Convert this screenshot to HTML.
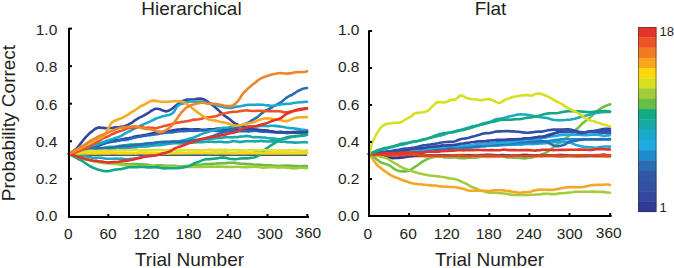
<!DOCTYPE html>
<html><head><meta charset="utf-8"><style>
html,body{margin:0;padding:0;background:#fff;width:674px;height:268px;overflow:hidden}
svg{display:block}
text{font-family:"Liberation Sans",sans-serif;fill:#231f20}
.l{fill:none;stroke-width:2.6;stroke-linejoin:round;stroke-linecap:round}
</style></head><body>
<svg width="674" height="268" viewBox="0 0 674 268">
<line x1="69" y1="155.2" x2="307" y2="155.2" stroke="#15202c" stroke-width="1.3"/>
<line x1="369" y1="155.8" x2="610" y2="155.8" stroke="#1f2d3d" stroke-width="1.2"/>
<path class="l" d="M69.0,153.8 L70.5,153.4 L72.6,152.8 L75.0,151.8 L77.6,151.0 L80.0,150.2 L82.4,149.6 L84.9,149.0 L87.4,148.5 L89.8,148.2 L92.0,147.5 L94.9,146.5 L97.3,145.4 L100.0,144.3 L102.2,143.5 L104.5,142.6 L107.0,142.2 L110.0,141.4 L112.1,140.9 L114.4,140.3 L117.0,140.0 L119.5,139.7 L122.0,139.2 L124.2,138.9 L126.0,138.6 L129.2,138.1 L132.0,137.4 L134.0,136.8 L136.4,136.3 L139.0,135.9 L141.6,135.6 L144.0,135.1 L146.3,134.8 L148.5,134.2 L150.6,133.7 L152.8,133.2 L155.0,132.7 L157.2,132.3 L159.3,131.9 L161.4,132.1 L163.6,132.0 L166.0,131.8 L168.3,131.3 L170.7,130.9 L173.3,130.2 L175.8,129.9 L178.1,129.5 L180.0,129.6 L182.7,129.0 L186.0,129.1 L187.8,129.2 L190.0,129.6 L192.5,129.5 L195.2,129.3 L197.9,129.2 L200.5,129.5 L202.9,129.7 L205.0,129.7 L207.7,129.5 L210.0,129.4 L212.0,129.3 L213.9,129.3 L216.0,128.9 L218.1,128.6 L220.1,128.8 L222.1,128.7 L224.4,128.8 L227.0,128.6 L229.0,128.9 L231.2,128.9 L233.5,129.1 L236.0,129.4 L238.5,129.5 L240.8,129.8 L243.0,129.6 L245.0,129.6 L247.5,129.5 L249.5,129.3 L251.4,129.4 L253.4,129.5 L256.0,129.9 L258.0,130.1 L260.3,130.3 L262.7,130.4 L265.2,130.6 L267.8,130.8 L270.3,131.4 L272.8,131.6 L275.0,132.1 L277.7,132.3 L280.2,132.4 L282.6,132.4 L285.0,132.2 L287.4,132.4 L290.0,132.2 L292.5,132.5 L295.2,132.1 L298.0,132.1 L300.8,131.9 L303.3,132.2 L305.4,132.3 L307.0,132.0" stroke="#2f3a96"/>
<path class="l" d="M69.0,153.8 L70.4,153.5 L72.3,153.1 L74.5,152.4 L76.9,151.9 L79.6,151.4 L82.3,150.7 L85.0,150.1 L87.6,149.3 L90.0,148.7 L92.3,148.1 L94.5,147.4 L96.7,146.4 L99.0,145.7 L101.2,144.8 L103.4,144.1 L105.6,143.3 L107.8,142.5 L110.0,142.1 L112.2,141.8 L114.4,141.5 L116.7,141.1 L118.9,140.6 L121.1,140.3 L123.3,140.0 L125.6,139.9 L127.8,139.4 L130.0,138.9 L132.2,138.2 L134.4,137.8 L136.7,137.1 L138.9,136.7 L141.1,136.4 L143.3,135.9 L145.6,135.8 L147.8,135.2 L150.0,135.1 L152.2,134.7 L154.3,134.4 L156.3,134.3 L158.3,133.9 L160.4,133.5 L162.6,133.1 L164.9,132.7 L167.3,132.5 L170.0,132.3 L172.0,132.4 L174.1,131.9 L176.2,131.7 L178.5,131.3 L180.8,131.1 L183.2,131.3 L185.6,130.9 L188.0,131.0 L190.4,130.5 L192.9,130.9 L195.3,130.6 L197.7,130.7 L200.0,130.3 L202.3,130.5 L204.6,130.2 L206.9,130.4 L209.2,130.3 L211.5,130.4 L213.8,130.5 L216.2,130.9 L218.5,130.7 L220.8,130.9 L223.1,130.8 L225.4,131.1 L227.7,131.1 L230.0,130.9 L232.3,131.2 L234.6,131.2 L236.9,131.3 L239.2,131.1 L241.5,131.1 L243.8,131.1 L246.2,131.1 L248.5,131.4 L250.8,131.2 L253.1,130.9 L255.4,130.7 L257.7,131.0 L260.0,131.5 L262.3,131.6 L264.7,131.7 L267.2,131.8 L269.7,132.0 L272.1,132.1 L274.6,132.2 L277.0,132.4 L279.4,132.6 L281.7,132.7 L284.0,132.8 L286.1,132.9 L288.1,133.1 L290.0,132.7 L293.3,132.7 L296.3,132.6 L299.1,132.6 L301.6,132.4 L303.8,132.3 L305.6,132.5 L307.0,132.6" stroke="#2468b8"/>
<path class="l" d="M69.0,153.8 L70.4,153.5 L72.1,153.1 L74.1,152.7 L76.4,152.4 L78.9,152.0 L81.6,151.2 L84.3,150.6 L87.2,149.8 L90.0,149.3 L92.0,149.0 L94.0,148.8 L96.1,148.7 L98.2,148.5 L100.4,148.5 L102.7,148.3 L105.0,147.8 L107.3,147.3 L109.7,146.8 L112.2,146.7 L114.7,146.6 L117.3,146.3 L120.0,145.9 L122.0,145.6 L124.0,145.4 L126.1,145.2 L128.2,144.9 L130.4,144.6 L132.6,144.6 L134.8,144.4 L137.1,144.3 L139.4,144.3 L141.7,144.0 L144.0,143.7 L146.3,143.2 L148.6,143.3 L150.9,143.1 L153.2,143.1 L155.5,142.6 L157.8,142.4 L160.0,142.0 L162.2,141.9 L164.4,141.8 L166.7,141.7 L168.9,141.7 L171.1,141.6 L173.3,141.4 L175.6,141.3 L177.8,141.2 L180.0,141.0 L182.2,140.9 L184.4,140.6 L186.7,140.5 L188.9,140.3 L191.1,140.2 L193.3,140.0 L195.6,139.8 L197.8,139.6 L200.0,139.4 L202.3,139.1 L204.6,139.1 L206.9,138.9 L209.3,139.0 L211.7,138.7 L214.1,138.5 L216.5,138.3 L218.9,138.0 L221.2,137.9 L223.6,137.4 L225.9,137.2 L228.1,137.2 L230.3,137.2 L232.5,137.2 L234.5,137.1 L236.4,137.0 L238.3,137.1 L240.0,136.6 L243.1,136.5 L245.8,135.9 L248.1,136.3 L250.3,136.4 L252.2,137.1 L254.1,137.2 L255.9,137.1 L257.9,137.2 L260.0,137.2 L262.2,137.5 L264.5,137.5 L266.9,138.0 L269.2,138.3 L271.5,138.6 L273.7,138.5 L275.9,138.9 L278.0,139.0 L280.0,139.2 L282.8,138.9 L285.5,138.5 L288.0,138.1 L290.4,137.3 L292.7,136.8 L295.0,136.4 L297.8,136.3 L300.6,135.9 L303.2,135.6 L305.4,135.2 L307.0,135.0" stroke="#1aa9b0"/>
<path class="l" d="M69.0,153.8 L70.4,153.6 L72.1,153.5 L74.1,153.3 L76.4,152.8 L78.9,152.3 L81.6,151.6 L84.3,151.1 L87.2,150.6 L90.0,150.4 L92.0,150.4 L94.0,150.2 L96.1,149.9 L98.2,149.7 L100.4,149.5 L102.7,149.5 L105.0,149.5 L107.3,149.1 L109.7,149.0 L112.2,148.6 L114.7,148.6 L117.3,148.3 L120.0,148.4 L122.0,148.4 L124.0,148.4 L126.1,148.0 L128.2,147.5 L130.4,147.2 L132.6,147.0 L134.8,147.0 L137.1,146.9 L139.4,146.5 L141.7,146.5 L144.0,146.3 L146.3,146.3 L148.6,145.9 L150.9,145.6 L153.2,145.0 L155.5,144.8 L157.8,144.8 L160.0,144.7 L162.2,144.5 L164.4,144.2 L166.6,144.0 L168.8,143.7 L171.0,143.4 L173.1,143.2 L175.3,143.1 L177.5,143.2 L179.7,143.4 L181.9,143.3 L184.1,143.2 L186.3,143.0 L188.5,142.5 L190.8,142.4 L193.0,142.2 L195.3,142.4 L197.7,142.3 L200.0,142.3 L202.2,142.1 L204.4,142.0 L206.7,141.7 L209.0,141.6 L211.4,141.7 L213.8,141.9 L216.2,142.0 L218.6,141.8 L221.0,141.7 L223.4,142.1 L225.8,142.2 L228.2,142.2 L230.5,141.7 L232.8,141.3 L235.0,141.3 L237.2,141.5 L239.3,141.9 L241.3,141.9 L243.2,141.6 L245.0,141.3 L248.0,141.2 L250.6,141.2 L252.9,141.2 L255.1,141.4 L257.0,141.3 L259.0,141.3 L260.9,140.8 L262.9,141.2 L265.0,141.2 L267.4,141.5 L270.0,141.4 L272.1,141.4 L274.3,141.3 L276.7,141.4 L279.3,141.4 L281.9,141.6 L284.6,141.8 L287.3,142.1 L290.1,142.3 L292.7,142.4 L295.3,142.6 L297.8,142.5 L300.1,142.5 L302.2,142.2 L304.1,142.2 L305.7,142.1 L307.0,142.4" stroke="#17a9a9"/>
<path class="l" d="M69.0,153.8 L70.4,153.6 L72.1,153.3 L74.1,152.8 L76.4,152.3 L78.9,152.1 L81.6,151.8 L84.3,151.6 L87.2,151.1 L90.0,150.7 L92.0,150.4 L94.0,149.9 L96.1,149.8 L98.2,149.7 L100.4,149.7 L102.7,149.2 L105.0,148.8 L107.3,148.4 L109.7,148.4 L112.2,148.5 L114.7,148.4 L117.3,148.3 L120.0,148.0 L122.0,147.9 L124.1,147.7 L126.3,147.6 L128.5,147.6 L130.8,147.5 L133.1,147.5 L135.5,147.1 L137.9,146.8 L140.3,146.4 L142.7,146.3 L145.1,146.4 L147.4,146.3 L149.7,146.0 L151.9,145.7 L154.1,145.4 L156.2,145.4 L158.1,145.2 L160.0,145.1 L162.9,144.6 L165.5,144.1 L168.0,143.7 L170.4,143.4 L172.7,142.9 L174.8,142.4 L176.9,141.7 L178.9,141.4 L181.0,141.0 L183.0,140.5 L185.0,139.9 L187.4,139.2 L189.8,138.5 L192.0,138.1 L194.2,137.3 L196.4,136.4 L198.5,135.5 L200.7,134.4 L202.8,133.6 L205.0,132.8 L207.2,132.3 L209.4,131.4 L211.7,130.7 L213.9,130.0 L216.1,129.7 L218.3,129.0 L220.6,128.4 L222.8,127.8 L225.0,127.8 L227.2,127.8 L229.3,127.3 L231.5,126.6 L233.6,126.4 L235.8,126.5 L238.0,126.6 L240.2,126.6 L242.6,126.7 L245.0,126.8 L247.1,126.6 L249.3,126.4 L251.6,126.5 L253.9,126.5 L256.3,126.4 L258.7,126.2 L261.1,125.8 L263.4,125.9 L265.7,125.9 L267.9,126.2 L270.0,125.8 L272.5,125.7 L274.8,125.9 L277.1,126.1 L279.4,126.4 L281.6,126.7 L283.7,127.0 L285.9,127.5 L287.9,127.7 L290.0,128.1 L292.7,128.2 L295.6,128.6 L298.4,129.1 L301.1,129.6 L303.5,129.8 L305.5,130.1 L307.0,130.3" stroke="#1aa9c0"/>
<path class="l" d="M69.0,153.8 L70.6,153.9 L72.9,154.1 L75.5,154.7 L78.0,155.2 L80.2,155.4 L82.4,155.8 L84.9,156.1 L88.0,156.9 L89.8,157.1 L91.8,157.7 L93.9,157.8 L96.1,157.9 L98.5,157.7 L100.9,157.8 L103.4,158.2 L106.0,158.7 L108.2,158.8 L110.6,158.8 L113.2,158.7 L115.8,158.6 L118.5,158.8 L121.1,158.6 L123.6,159.0 L126.0,159.1 L128.1,159.2 L130.0,158.8 L133.4,158.6 L135.6,158.3 L137.5,158.0 L140.0,157.4 L142.2,157.1 L144.4,156.6 L146.9,156.2 L149.4,155.6 L152.2,155.0 L155.0,154.7 L156.9,154.4 L158.6,154.3 L160.4,153.8 L162.2,153.4 L164.1,153.5 L166.3,153.1 L168.8,153.3 L171.7,153.1 L175.0,153.3 L176.7,153.0 L178.5,152.9 L180.3,153.0 L182.3,153.1 L184.4,153.0 L186.5,153.2 L188.7,153.2 L191.0,153.3 L193.3,153.2 L195.6,153.0 L198.0,153.0 L200.4,153.0 L202.9,153.3 L205.3,153.3 L207.8,153.2 L210.3,153.0 L212.7,153.0 L215.2,152.9 L217.6,153.1 L220.0,153.0 L222.2,153.1 L224.4,152.8 L226.7,152.9 L229.0,153.4 L231.3,153.8 L233.6,153.9 L236.0,153.5 L238.4,153.1 L240.7,152.9 L243.1,153.0 L245.5,152.9 L247.9,153.3 L250.2,153.2 L252.6,153.1 L254.9,152.6 L257.2,152.4 L259.4,152.6 L261.6,152.9 L263.8,153.0 L265.9,152.7 L268.0,152.7 L270.0,152.8 L272.7,153.0 L275.5,153.0 L278.3,152.9 L281.0,152.7 L283.8,152.7 L286.5,152.8 L289.1,153.1 L291.6,153.2 L294.1,153.3 L296.4,153.2 L298.6,153.1 L300.7,152.7 L302.5,152.9 L304.2,152.8 L305.7,153.2 L307.0,153.0" stroke="#22a6c4"/>
<path class="l" d="M69.0,153.8 L70.9,152.6 L73.6,150.8 L76.0,149.1 L77.8,147.2 L79.3,145.3 L81.0,143.1 L82.4,141.3 L83.9,139.3 L85.5,137.4 L87.0,135.8 L89.0,133.8 L91.0,132.1 L93.0,130.6 L95.0,129.0 L96.9,128.0 L99.0,127.4 L101.2,127.7 L103.5,127.9 L106.0,128.2 L108.2,128.2 L110.6,128.0 L112.9,127.8 L115.0,127.4 L118.2,127.4 L121.0,126.8 L123.5,126.6 L126.0,125.6 L128.0,124.9 L130.0,123.7 L132.0,122.7 L134.4,120.7 L137.0,119.1 L139.3,117.6 L141.7,116.6 L144.0,115.5 L146.6,113.9 L149.0,112.6 L151.0,111.0 L153.0,109.9 L155.0,108.8 L157.5,108.7 L160.0,109.3 L162.9,110.6 L166.0,111.5 L169.1,110.5 L172.0,108.8 L174.4,106.8 L177.0,104.7 L178.7,103.4 L180.6,102.4 L182.6,100.9 L185.0,100.3 L187.2,99.6 L189.8,99.6 L192.4,99.5 L194.9,99.3 L197.0,98.8 L199.7,98.5 L201.9,98.8 L204.0,99.5 L206.4,100.8 L208.8,102.5 L211.0,104.1 L213.6,105.9 L216.0,108.0 L217.9,109.7 L219.9,111.7 L222.0,113.5 L223.7,115.1 L225.5,116.4 L227.3,117.6 L229.0,118.8 L231.2,120.6 L233.4,122.4 L235.5,123.7 L238.3,125.0 L241.0,125.6 L243.3,126.7 L246.0,127.7 L247.7,128.3 L249.6,128.8 L251.9,129.0 L255.0,129.5 L256.8,129.6 L258.8,130.0 L261.0,130.1 L263.4,130.3 L265.9,130.5 L268.3,130.8 L270.7,131.4 L272.9,131.7 L275.0,132.0 L277.8,132.0 L280.3,131.9 L282.7,132.0 L285.0,132.2 L287.4,132.1 L290.0,132.2 L292.5,132.0 L295.2,132.1 L298.0,132.1 L300.8,132.0 L303.3,132.2 L305.4,132.1 L307.0,131.5" stroke="#3346a0"/>
<path class="l" d="M69.0,153.8 L70.4,153.5 L72.1,152.9 L74.1,152.5 L76.4,151.5 L78.9,151.4 L81.6,150.9 L84.3,150.8 L87.2,150.1 L90.0,149.7 L92.0,149.2 L94.0,148.9 L96.1,148.6 L98.2,148.3 L100.4,148.1 L102.7,148.0 L105.0,147.9 L107.3,147.7 L109.7,147.7 L112.2,147.5 L114.7,147.2 L117.3,146.7 L120.0,146.4 L122.0,146.2 L124.0,145.9 L126.1,146.0 L128.3,145.9 L130.5,145.7 L132.8,145.3 L135.1,145.3 L137.4,145.0 L139.7,144.6 L142.0,144.4 L144.3,144.0 L146.7,143.8 L149.0,143.3 L151.3,143.6 L153.5,143.3 L155.7,142.7 L157.9,142.3 L160.0,142.2 L162.5,142.3 L165.1,142.1 L167.6,142.0 L170.2,142.0 L172.8,141.8 L175.3,141.8 L177.8,141.8 L180.3,141.8 L182.7,141.4 L185.0,141.2 L187.2,141.2 L189.4,141.0 L191.4,140.7 L193.3,140.6 L195.0,140.6 L198.2,140.2 L200.8,139.6 L203.0,139.1 L204.8,138.7 L206.5,137.9 L208.2,137.5 L210.0,137.0 L212.6,136.3 L215.0,135.3 L217.3,134.4 L219.6,133.6 L222.0,132.7 L224.1,132.2 L226.4,131.5 L228.6,130.8 L230.9,130.0 L233.0,129.1 L235.0,128.1 L237.7,126.9 L240.2,125.9 L242.6,125.0 L245.0,123.9 L247.0,123.2 L249.1,122.2 L251.2,120.7 L253.2,119.6 L255.0,118.5 L257.5,117.1 L259.7,115.1 L262.0,113.1 L263.9,111.7 L265.8,110.4 L267.8,109.7 L270.0,108.5 L272.0,107.4 L274.3,105.8 L276.6,104.7 L278.9,103.4 L281.0,102.2 L283.4,100.4 L285.6,98.4 L287.8,96.9 L290.0,95.7 L292.3,94.7 L294.6,93.2 L296.8,91.7 L299.0,90.5 L302.0,89.1 L305.0,88.3 L307.0,88.0" stroke="#2b6cb5"/>
<path class="l" d="M69.0,153.8 L70.5,153.4 L72.4,152.8 L74.8,151.9 L77.4,151.0 L80.0,150.0 L82.6,149.0 L85.0,148.0 L87.2,147.0 L89.4,146.2 L91.5,145.6 L93.6,145.1 L95.7,144.8 L97.9,144.1 L100.0,143.3 L102.1,142.5 L104.3,141.8 L106.4,140.8 L108.6,140.2 L110.7,139.5 L112.9,139.0 L115.0,138.0 L117.2,137.5 L119.4,136.6 L121.7,135.6 L123.9,134.1 L126.1,133.0 L128.1,131.8 L130.0,131.2 L132.2,129.8 L134.1,128.9 L135.9,128.0 L137.8,127.1 L140.0,126.1 L141.9,125.0 L144.0,124.2 L146.3,123.1 L148.6,122.1 L150.9,121.1 L153.0,120.0 L155.0,119.0 L157.5,117.9 L159.9,117.2 L162.1,116.5 L164.1,116.0 L166.0,115.6 L168.7,115.0 L171.0,114.2 L173.0,113.0 L174.7,110.7 L176.2,107.8 L178.0,105.7 L180.5,104.2 L183.3,103.4 L186.0,102.5 L188.2,101.8 L190.3,101.4 L193.0,101.5 L195.0,101.7 L197.3,101.6 L199.8,101.5 L202.4,101.6 L205.0,102.3 L207.2,102.9 L209.6,103.5 L212.0,104.1 L214.4,104.8 L216.8,105.3 L219.0,106.0 L221.6,106.6 L224.1,107.3 L226.5,107.6 L228.8,107.9 L231.0,107.9 L233.3,107.4 L235.2,106.9 L237.3,106.6 L240.0,106.3 L241.9,105.9 L244.1,105.4 L246.5,105.0 L248.9,104.8 L251.4,104.7 L253.8,104.7 L256.0,104.7 L258.5,104.5 L261.0,104.7 L263.4,104.8 L265.8,105.2 L268.0,105.4 L270.0,105.6 L272.6,105.7 L274.8,105.5 L276.9,105.0 L279.0,104.8 L281.2,104.3 L283.5,104.2 L285.8,103.9 L288.0,103.8 L290.2,103.6 L292.4,103.2 L294.7,102.7 L297.0,102.5 L299.7,102.2 L302.6,102.1 L305.2,101.8 L307.0,101.8" stroke="#1aa9cc"/>
<path class="l" d="M69.0,153.8 L70.5,154.3 L72.6,155.1 L75.0,155.9 L77.6,156.6 L80.0,157.5 L82.3,158.5 L84.7,159.0 L87.2,159.4 L89.6,159.9 L92.0,160.6 L94.4,161.4 L96.8,161.8 L99.3,162.0 L101.7,162.0 L104.0,162.5 L106.2,162.7 L108.3,162.8 L110.4,162.4 L112.6,162.6 L115.0,162.9 L117.2,163.1 L119.5,163.3 L121.9,163.5 L124.5,163.8 L127.2,164.1 L130.0,164.2 L132.0,164.1 L134.1,164.1 L136.3,164.0 L138.5,164.3 L140.8,164.2 L143.1,164.5 L145.5,164.5 L147.8,164.8 L150.0,165.3 L152.2,165.5 L154.5,165.7 L156.9,165.2 L159.2,165.3 L161.5,165.4 L163.7,165.6 L165.9,165.8 L168.0,165.8 L170.0,165.7 L172.8,165.8 L175.4,165.8 L177.8,166.2 L180.2,166.2 L182.6,166.3 L185.0,166.0 L187.3,166.1 L189.4,165.7 L191.6,165.5 L193.9,165.1 L196.6,165.0 L200.0,164.7 L201.8,164.6 L203.8,164.2 L206.0,164.1 L208.3,164.0 L210.6,164.1 L213.1,163.8 L215.6,163.7 L218.1,163.4 L220.6,163.3 L223.0,163.2 L225.5,163.1 L227.8,162.9 L230.0,162.7 L232.5,162.7 L235.0,162.9 L237.4,163.3 L239.8,163.6 L242.2,163.8 L244.5,163.9 L246.9,164.1 L249.2,164.1 L251.4,164.3 L253.7,164.6 L256.0,164.7 L258.5,164.6 L260.9,164.8 L263.3,165.0 L265.6,165.3 L267.9,165.3 L270.3,165.2 L272.6,165.5 L275.0,165.7 L277.5,166.0 L280.0,165.8 L282.2,165.7 L284.6,165.6 L287.2,165.6 L289.8,165.7 L292.4,165.9 L295.0,166.1 L297.5,166.1 L299.9,166.2 L302.1,166.0 L304.0,166.1 L305.7,166.1 L307.0,166.0" stroke="#68bd45"/>
<path class="l" d="M69.0,153.8 L70.5,154.3 L72.6,155.1 L75.0,156.1 L77.6,157.1 L80.0,157.9 L82.3,158.7 L84.7,159.3 L87.2,159.8 L89.6,160.0 L92.0,160.5 L94.4,161.2 L96.8,161.8 L99.3,162.3 L101.7,162.7 L104.0,163.1 L106.2,163.3 L108.3,163.5 L110.4,163.6 L112.6,163.7 L115.0,163.9 L117.2,164.1 L119.5,164.5 L121.9,164.9 L124.5,165.3 L127.2,165.6 L130.0,165.5 L132.0,165.9 L134.1,166.1 L136.3,166.3 L138.5,166.2 L140.8,166.4 L143.1,166.5 L145.5,166.4 L147.8,166.4 L150.0,166.4 L152.2,166.5 L154.4,166.7 L156.7,167.0 L158.9,167.0 L161.1,167.0 L163.3,166.7 L165.6,166.8 L167.8,166.7 L170.0,166.9 L172.2,167.0 L174.3,166.7 L176.3,166.9 L178.3,166.9 L180.4,167.1 L182.6,167.0 L184.9,167.0 L187.3,166.9 L190.0,166.8 L192.0,166.9 L194.1,167.0 L196.2,167.0 L198.5,166.9 L200.8,166.8 L203.2,166.9 L205.6,166.8 L208.0,166.8 L210.4,166.6 L212.9,166.5 L215.3,166.7 L217.7,166.5 L220.0,166.6 L222.3,166.6 L224.6,166.9 L226.9,166.9 L229.2,166.9 L231.5,167.0 L233.8,167.0 L236.2,166.7 L238.5,166.8 L240.8,167.0 L243.1,167.2 L245.4,167.1 L247.7,167.1 L250.0,166.8 L252.3,166.9 L254.6,166.5 L257.0,166.9 L259.3,167.0 L261.7,167.6 L264.0,167.6 L266.4,167.5 L268.7,167.3 L271.0,167.1 L273.3,167.2 L275.5,167.3 L277.8,167.6 L280.0,167.4 L282.4,167.4 L285.0,167.5 L287.6,167.8 L290.2,167.9 L292.8,168.4 L295.4,168.2 L297.8,168.2 L300.1,167.8 L302.2,167.8 L304.1,168.0 L305.7,168.2 L307.0,168.0" stroke="#a2cc3a"/>
<path class="l" d="M69.0,153.8 L70.5,154.6 L72.7,155.8 L75.1,157.2 L77.7,158.5 L80.0,159.8 L82.1,160.9 L84.1,162.3 L86.0,163.6 L88.0,164.8 L90.0,166.3 L92.6,167.5 L95.2,168.6 L97.8,169.4 L100.0,170.0 L103.1,170.9 L106.0,171.2 L108.0,171.1 L110.2,170.8 L112.5,170.2 L115.0,169.6 L117.0,169.5 L119.1,169.2 L121.3,169.1 L123.6,168.4 L126.0,167.9 L128.1,167.3 L130.4,167.2 L132.7,167.2 L135.1,167.2 L137.5,167.1 L140.0,166.9 L142.2,167.0 L144.6,167.0 L147.1,167.4 L149.5,167.2 L151.9,167.4 L154.1,167.2 L156.0,167.2 L158.7,167.4 L160.8,167.9 L162.7,168.2 L165.0,168.4 L167.2,168.1 L169.6,168.2 L172.1,168.2 L174.6,168.2 L177.0,168.1 L179.3,167.9 L181.6,167.7 L183.9,167.2 L186.0,166.8 L188.0,166.4 L190.2,165.6 L192.1,164.5 L194.0,163.5 L196.0,162.8 L198.1,162.1 L200.3,161.1 L202.6,160.1 L205.0,159.4 L207.1,159.1 L209.4,159.1 L211.8,158.9 L214.0,158.8 L216.0,158.4 L218.6,158.1 L220.7,157.6 L223.0,157.4 L225.6,157.8 L228.2,158.5 L231.0,159.0 L233.0,159.1 L235.0,159.2 L237.2,159.0 L240.0,158.5 L242.0,158.3 L244.3,158.4 L246.7,158.4 L249.3,158.1 L251.7,157.7 L254.0,157.5 L256.0,156.9 L258.2,155.9 L260.1,154.5 L261.7,153.1 L263.2,151.4 L265.0,149.7 L267.0,148.1 L269.0,146.7 L271.0,145.3 L273.0,144.0 L275.0,143.0 L277.3,141.5 L279.4,140.4 L281.6,139.1 L284.0,138.4 L286.1,137.5 L288.2,137.1 L290.4,136.6 L292.7,136.5 L295.0,136.1 L297.5,135.8 L300.3,135.5 L303.0,135.1 L305.4,135.0 L307.0,134.7" stroke="#14a982"/>
<path class="l" d="M69.0,153.8 L70.4,153.6 L72.1,153.2 L74.3,152.7 L76.7,152.4 L79.3,152.3 L82.1,152.0 L85.0,151.6 L86.9,151.4 L88.8,151.1 L90.8,150.9 L92.8,150.9 L94.9,151.0 L97.1,151.0 L99.4,150.8 L101.9,150.7 L104.4,150.6 L107.1,150.8 L110.0,150.9 L111.8,150.9 L113.7,150.5 L115.7,150.4 L117.7,150.1 L119.7,150.5 L121.9,150.3 L124.0,150.5 L126.2,150.5 L128.4,150.3 L130.7,150.3 L133.0,150.0 L135.4,150.1 L137.7,150.0 L140.2,150.2 L142.6,150.2 L145.0,150.4 L147.5,150.3 L150.0,150.1 L152.1,150.3 L154.2,150.1 L156.3,150.1 L158.5,149.9 L160.7,150.0 L162.9,150.3 L165.2,150.3 L167.4,150.2 L169.7,150.1 L172.1,150.3 L174.4,150.3 L176.7,150.3 L179.1,150.1 L181.4,150.0 L183.7,150.0 L186.1,150.2 L188.4,150.2 L190.8,150.2 L193.1,150.1 L195.4,150.2 L197.7,150.3 L200.0,150.4 L202.3,150.4 L204.5,150.2 L206.8,150.0 L209.0,149.6 L211.2,149.7 L213.4,149.8 L215.7,150.2 L217.9,149.9 L220.1,149.9 L222.3,149.7 L224.6,149.8 L226.8,149.9 L229.0,150.2 L231.3,150.3 L233.6,150.2 L235.9,150.3 L238.2,150.3 L240.5,150.4 L242.8,150.4 L245.2,150.8 L247.6,150.5 L250.0,150.2 L252.2,150.0 L254.5,150.3 L256.9,150.3 L259.3,150.2 L261.9,149.9 L264.4,150.2 L267.1,150.2 L269.7,150.5 L272.4,150.4 L275.0,150.6 L277.7,150.6 L280.3,150.6 L282.9,150.6 L285.5,150.6 L288.0,150.4 L290.4,150.2 L292.7,150.3 L295.0,150.5 L297.1,150.5 L299.1,150.4 L301.0,150.8 L302.8,150.9 L304.3,150.9 L305.8,150.6 L307.0,150.4" stroke="#dfe030"/>
<path class="l" d="M69.0,153.8 L70.4,153.8 L72.1,153.5 L74.3,153.3 L76.7,153.4 L79.3,153.5 L82.1,153.3 L85.0,153.0 L86.9,153.2 L88.8,153.2 L90.8,153.3 L92.8,153.2 L94.9,153.4 L97.1,153.3 L99.4,153.2 L101.9,153.1 L104.4,153.2 L107.1,153.2 L110.0,153.1 L111.8,152.7 L113.7,152.7 L115.7,152.8 L117.7,153.2 L119.7,153.3 L121.9,153.3 L124.0,153.2 L126.2,153.2 L128.4,153.2 L130.7,153.1 L133.0,153.2 L135.4,153.1 L137.7,152.9 L140.2,152.6 L142.6,152.6 L145.0,152.8 L147.5,152.8 L150.0,152.7 L152.1,152.8 L154.2,153.0 L156.3,153.2 L158.5,153.1 L160.7,153.0 L162.9,153.1 L165.2,153.2 L167.4,153.4 L169.7,153.2 L172.1,153.2 L174.4,153.0 L176.7,153.0 L179.1,153.0 L181.4,153.0 L183.7,153.0 L186.1,153.0 L188.4,152.9 L190.8,152.9 L193.1,152.7 L195.4,152.8 L197.7,152.7 L200.0,152.9 L202.3,152.7 L204.5,152.8 L206.8,152.8 L209.0,152.9 L211.2,152.8 L213.4,152.9 L215.7,153.1 L217.9,153.0 L220.1,153.0 L222.3,152.9 L224.6,153.0 L226.8,152.8 L229.0,153.0 L231.3,153.1 L233.6,153.3 L235.9,153.1 L238.2,153.0 L240.5,153.0 L242.8,153.1 L245.2,153.2 L247.6,153.0 L250.0,153.0 L252.2,153.0 L254.5,152.9 L256.9,152.8 L259.3,153.0 L261.9,153.2 L264.4,153.3 L267.1,153.3 L269.7,153.2 L272.4,153.1 L275.0,153.2 L277.7,153.2 L280.3,153.3 L282.9,153.1 L285.5,153.2 L288.0,153.1 L290.4,153.1 L292.7,153.2 L295.0,153.1 L297.1,153.0 L299.1,153.1 L301.0,153.3 L302.8,153.2 L304.3,153.0 L305.8,152.8 L307.0,153.0" stroke="#fcd80a"/>
<path class="l" d="M69.0,153.8 L70.8,153.5 L73.3,153.1 L76.0,152.5 L78.6,151.3 L81.3,150.3 L84.0,149.0 L86.0,148.4 L88.0,147.3 L90.0,146.3 L92.0,144.9 L94.0,143.7 L95.9,142.6 L97.9,141.8 L100.0,140.4 L101.9,139.0 L103.8,137.9 L105.8,137.2 L107.9,136.6 L110.0,135.3 L112.1,134.2 L114.3,133.2 L116.6,132.2 L118.8,131.6 L121.0,130.9 L123.2,130.1 L125.4,129.2 L127.5,128.4 L129.7,128.0 L132.0,127.8 L134.4,127.7 L136.8,127.2 L139.2,126.9 L141.6,126.9 L144.0,127.5 L146.3,127.7 L148.5,127.5 L150.6,127.8 L152.8,127.9 L155.0,128.3 L157.2,128.0 L159.4,127.3 L161.6,126.7 L163.8,125.9 L166.0,125.7 L168.2,125.0 L170.5,124.6 L172.7,123.8 L174.9,123.2 L177.0,122.7 L179.3,122.4 L181.5,121.9 L183.7,121.7 L186.0,121.3 L188.1,121.1 L190.3,120.4 L192.5,119.9 L194.8,119.6 L197.0,119.5 L199.2,119.3 L201.5,118.7 L203.8,118.0 L206.0,117.7 L208.0,117.3 L210.9,117.0 L213.5,116.6 L216.0,116.3 L218.1,115.5 L220.1,114.4 L223.0,113.5 L225.0,113.3 L227.3,112.7 L229.8,112.2 L232.5,111.9 L235.2,111.8 L238.0,111.6 L240.1,111.1 L242.4,110.7 L244.7,110.5 L247.1,110.4 L249.4,110.7 L251.7,110.9 L253.9,111.0 L256.0,110.9 L258.6,110.7 L261.1,110.8 L263.6,111.0 L265.9,111.0 L268.0,111.1 L270.0,111.2 L272.6,111.1 L274.9,111.2 L277.0,111.0 L279.0,111.2 L281.3,111.5 L283.4,112.2 L286.0,112.3 L288.0,112.2 L290.2,111.5 L292.5,111.1 L294.8,110.5 L297.0,110.4 L299.8,110.0 L302.7,109.5 L305.2,109.0 L307.0,108.8" stroke="#ec5327"/>
<path class="l" d="M69.0,153.8 L70.5,153.1 L72.7,152.0 L75.1,150.8 L77.7,149.6 L80.0,148.7 L82.1,147.4 L84.1,146.6 L86.0,145.0 L88.0,144.0 L90.0,142.7 L92.1,142.0 L94.3,140.8 L96.4,139.7 L98.4,138.8 L100.0,138.2 L102.5,136.8 L104.3,135.3 L105.7,132.9 L107.2,130.5 L108.5,128.0 L110.0,125.1 L111.6,122.7 L113.7,121.3 L116.0,120.3 L120.0,118.7 L122.1,117.9 L124.2,116.8 L128.0,114.6 L130.0,113.2 L132.0,111.9 L133.9,111.0 L136.0,109.5 L138.5,107.7 L141.0,105.9 L142.9,105.2 L145.0,104.3 L146.9,103.2 L149.0,101.9 L151.0,100.9 L153.2,100.6 L156.0,100.9 L158.1,101.3 L160.4,101.7 L163.1,101.9 L166.0,101.8 L168.2,101.8 L170.7,101.5 L173.2,101.3 L175.8,101.1 L178.1,101.2 L180.0,101.2 L183.5,102.0 L186.0,103.5 L188.0,104.9 L190.0,106.5 L192.0,108.1 L193.9,109.6 L195.8,111.0 L198.0,112.6 L200.0,114.0 L202.3,115.7 L204.7,117.2 L207.0,118.8 L209.3,119.6 L211.6,120.1 L213.8,120.4 L216.0,120.8 L218.7,121.4 L221.2,122.0 L224.0,122.4 L226.4,123.1 L229.0,123.6 L231.6,124.9 L234.0,125.4 L236.7,125.8 L239.3,125.3 L242.0,124.7 L244.3,124.2 L246.8,123.7 L249.3,123.2 L252.0,122.7 L254.4,122.0 L256.9,121.0 L259.5,119.9 L262.0,119.1 L264.0,118.5 L267.2,118.3 L270.0,118.5 L272.1,118.9 L274.4,119.2 L276.8,119.5 L279.0,120.0 L281.7,120.4 L284.2,121.1 L287.0,120.9 L289.4,120.2 L291.9,119.1 L294.5,118.1 L297.0,117.6 L299.7,117.2 L302.6,117.3 L305.2,117.1 L307.0,117.2" stroke="#f6ab22"/>
<path class="l" d="M69.0,153.8 L70.5,154.4 L72.6,155.1 L75.0,155.8 L77.6,156.7 L80.0,157.2 L82.3,158.1 L84.7,158.7 L87.2,159.5 L89.6,160.1 L92.0,160.5 L94.5,160.7 L97.0,160.9 L99.6,161.5 L101.9,161.6 L104.0,162.0 L106.4,162.2 L108.3,162.6 L111.0,162.3 L112.9,162.1 L115.1,162.0 L117.5,162.0 L120.0,161.4 L122.5,160.9 L125.0,160.5 L127.4,160.6 L129.7,160.2 L132.1,159.8 L134.6,159.2 L137.2,158.6 L140.0,158.0 L142.1,157.2 L144.3,156.9 L146.7,156.5 L149.1,156.2 L151.5,155.9 L153.9,155.7 L156.1,155.4 L158.2,154.8 L160.0,154.3 L163.2,153.3 L165.8,152.7 L167.9,152.1 L170.0,151.4 L172.1,150.2 L174.0,148.9 L175.9,147.9 L178.0,147.1 L180.4,146.5 L182.9,145.5 L185.5,144.5 L188.0,143.5 L190.5,142.8 L193.0,142.0 L195.5,141.0 L198.0,140.0 L200.5,139.3 L203.0,138.8 L205.5,138.3 L208.0,137.7 L210.5,137.1 L212.9,136.7 L215.4,136.7 L218.0,136.2 L220.2,135.6 L222.5,135.1 L224.9,134.8 L227.4,134.1 L230.0,133.3 L232.0,132.9 L234.2,132.6 L236.4,131.8 L238.7,130.6 L240.9,129.6 L243.0,128.5 L245.0,127.9 L247.5,127.2 L249.7,126.8 L251.8,126.7 L253.9,126.4 L256.0,126.2 L258.2,125.5 L260.4,124.8 L262.5,124.3 L264.7,123.8 L267.0,123.1 L269.4,122.1 L271.9,121.0 L274.4,120.2 L276.8,119.5 L279.0,118.9 L281.5,117.6 L283.7,116.0 L285.8,114.3 L288.0,113.2 L290.2,112.2 L292.4,111.5 L294.7,110.7 L297.0,109.8 L299.7,109.1 L302.6,108.7 L305.2,108.4 L307.0,108.3" stroke="#e63329"/>
<path class="l" d="M69.0,153.8 L70.5,152.9 L72.7,151.8 L75.1,150.2 L77.7,148.9 L80.0,147.4 L82.1,146.5 L84.1,145.1 L86.0,143.8 L88.0,142.3 L90.0,141.0 L92.0,139.9 L94.0,138.8 L96.0,137.8 L98.0,136.6 L100.0,135.8 L102.5,134.8 L104.9,134.1 L107.4,132.8 L110.0,131.6 L112.1,130.7 L114.3,130.0 L116.6,128.9 L118.8,128.2 L121.0,127.7 L123.2,127.4 L125.4,127.2 L127.5,126.8 L129.7,126.9 L132.0,126.4 L134.4,126.4 L136.8,126.6 L139.2,127.2 L141.6,128.1 L144.0,128.4 L146.4,128.9 L148.8,129.0 L151.1,129.5 L153.2,130.0 L155.0,130.5 L157.8,131.8 L160.0,132.5 L162.9,131.8 L166.0,130.2 L168.0,128.7 L170.1,127.2 L172.0,125.3 L173.7,123.4 L175.3,121.0 L177.0,118.8 L178.4,116.6 L179.9,114.5 L181.5,112.4 L183.0,110.9 L184.8,109.0 L186.6,107.4 L189.0,106.1 L191.1,105.1 L193.5,104.5 L196.1,103.7 L198.7,103.2 L201.0,102.7 L203.5,102.8 L205.7,103.3 L207.8,103.7 L210.0,103.7 L212.2,103.5 L214.5,103.7 L216.8,104.0 L219.0,104.5 L221.3,104.9 L223.8,105.5 L226.0,105.9 L228.0,106.1 L230.8,106.1 L233.0,105.4 L235.6,103.5 L238.0,101.1 L239.4,99.1 L240.7,97.0 L242.0,94.8 L243.9,92.5 L246.0,90.5 L248.3,88.2 L251.0,86.0 L252.6,84.6 L254.4,83.3 L256.3,81.7 L258.0,80.3 L260.1,78.8 L262.0,77.9 L264.0,77.0 L267.0,76.0 L270.0,75.1 L272.7,74.3 L276.0,73.7 L277.9,73.2 L280.1,73.1 L282.5,73.2 L284.8,73.5 L287.0,73.6 L289.3,73.4 L291.5,73.2 L293.7,72.5 L296.0,72.3 L298.2,72.1 L300.8,72.3 L303.3,72.0 L305.5,71.7 L307.0,71.3" stroke="#f0842a"/>
<path class="l" d="M369.0,154.3 L370.6,155.3 L372.8,156.6 L375.0,158.0 L376.9,159.4 L378.8,161.0 L380.9,162.6 L383.3,163.3 L385.8,164.1 L388.4,164.9 L390.2,166.0 L392.1,167.3 L393.9,168.7 L395.9,169.9 L398.1,170.8 L400.5,171.3 L402.9,171.4 L404.8,171.4 L407.2,171.1 L409.3,170.5 L411.1,169.5 L413.1,168.2 L415.3,166.6 L417.0,165.6 L418.9,164.2 L420.8,162.9 L422.7,161.5 L425.3,160.2 L427.8,158.9 L430.2,157.9 L432.8,157.2 L436.1,156.8 L437.9,156.8 L440.1,156.8 L442.5,157.0 L445.0,157.5 L447.5,157.5 L450.0,157.6 L452.4,157.3 L454.9,157.5 L457.4,157.8 L460.0,158.1 L462.5,158.3 L465.0,158.2 L467.5,157.8 L470.0,157.7 L472.5,157.6 L475.0,157.6 L477.5,157.4 L480.0,157.0 L482.5,156.5 L485.0,155.7 L487.5,155.3 L490.0,155.3 L492.5,155.6 L495.0,155.7 L497.5,155.7 L500.1,156.0 L502.7,156.6 L505.2,157.1 L507.7,157.4 L510.0,157.2 L512.6,157.6 L515.0,157.5 L517.3,157.8 L519.6,157.9 L522.0,158.2 L524.6,158.4 L527.3,157.9 L530.0,157.7 L532.6,157.2 L535.0,156.7 L537.7,155.9 L540.3,155.1 L542.7,154.2 L545.0,153.2 L547.2,151.9 L549.3,150.3 L551.4,148.8 L553.5,147.2 L555.3,146.3 L557.1,144.9 L558.9,143.5 L560.7,141.6 L562.4,140.5 L564.4,139.0 L566.3,137.9 L568.2,136.5 L569.9,135.2 L571.9,133.5 L573.8,131.8 L576.0,129.8 L577.6,128.3 L579.5,126.4 L581.4,124.5 L583.2,122.8 L584.8,121.5 L587.3,119.8 L590.0,117.6 L591.7,116.1 L593.6,114.1 L595.6,112.3 L597.7,110.5 L599.8,109.0 L602.0,107.7 L604.5,106.5 L606.8,105.5 L608.9,104.6 L610.3,104.4" stroke="#74c044"/>
<path class="l" d="M369.0,154.3 L370.2,154.2 L371.6,154.2 L373.2,153.7 L375.0,153.6 L377.0,153.3 L379.0,153.5 L381.2,153.4 L383.6,153.2 L386.0,153.1 L388.4,153.1 L391.0,153.2 L393.5,153.3 L396.1,153.1 L398.8,152.7 L401.4,152.2 L403.9,151.9 L406.5,152.0 L409.0,152.0 L411.4,151.9 L413.7,151.4 L415.9,151.2 L418.0,151.3 L420.0,151.5 L422.6,151.2 L425.2,150.8 L427.6,150.2 L429.9,150.0 L432.1,149.9 L434.2,150.1 L436.4,150.1 L438.4,149.8 L440.5,149.3 L442.6,148.7 L444.7,148.6 L446.8,148.6 L449.0,148.6 L451.2,148.4 L453.6,148.0 L456.0,147.8 L458.0,147.4 L460.1,147.4 L462.2,147.4 L464.4,147.2 L466.5,147.2 L468.7,146.9 L471.0,146.7 L473.2,146.6 L475.5,146.5 L477.8,146.4 L480.0,146.2 L482.3,146.3 L484.6,146.2 L486.8,145.9 L489.1,145.9 L491.3,145.7 L493.5,145.8 L495.7,145.6 L497.9,145.6 L500.0,145.4 L502.3,145.2 L504.7,145.2 L507.1,145.0 L509.4,144.8 L511.8,144.6 L514.2,144.7 L516.5,144.7 L518.9,144.7 L521.2,144.7 L523.5,144.3 L525.7,144.1 L527.9,143.9 L530.1,143.9 L532.2,144.1 L534.2,144.0 L536.2,143.8 L538.2,143.7 L540.0,143.3 L542.9,143.4 L545.5,143.2 L548.0,143.0 L550.4,142.8 L552.7,142.2 L554.8,142.3 L556.9,142.0 L558.9,142.1 L561.0,141.9 L563.0,142.2 L565.0,142.3 L567.4,142.3 L569.7,142.6 L571.9,143.2 L574.0,144.1 L576.0,145.0 L578.1,145.5 L580.3,146.1 L582.6,146.5 L585.0,147.1 L587.2,147.0 L589.6,147.3 L592.1,147.4 L594.8,147.7 L597.4,147.5 L600.0,147.0 L602.5,146.7 L604.8,146.5 L606.9,146.5 L608.6,146.6 L610.0,146.6" stroke="#22a9e0"/>
<path class="l" d="M369.0,154.3 L370.2,154.2 L371.6,154.1 L373.2,154.2 L375.0,153.9 L377.0,153.8 L379.0,153.4 L381.2,153.4 L383.6,153.4 L386.0,153.3 L388.4,153.1 L391.0,152.5 L393.5,152.3 L396.1,152.0 L398.8,151.8 L401.4,151.7 L403.9,151.5 L406.5,151.4 L409.0,151.4 L411.4,151.3 L413.7,151.2 L415.9,151.0 L418.0,150.6 L420.0,150.4 L422.6,150.2 L425.2,150.2 L427.6,150.0 L429.9,149.9 L432.1,150.0 L434.2,149.8 L436.4,149.7 L438.4,149.3 L440.5,149.2 L442.6,149.0 L444.7,149.1 L446.8,149.1 L449.0,149.1 L451.2,148.9 L453.6,148.8 L456.0,148.7 L458.0,148.5 L460.1,148.3 L462.2,148.1 L464.4,148.2 L466.5,148.1 L468.7,148.1 L471.0,147.7 L473.2,147.5 L475.5,147.0 L477.8,146.8 L480.0,146.5 L482.3,146.3 L484.6,146.2 L486.8,145.8 L489.1,145.7 L491.3,145.4 L493.5,145.2 L495.7,145.0 L497.9,144.9 L500.0,144.7 L502.3,144.5 L504.7,144.3 L507.1,144.3 L509.4,144.4 L511.8,144.3 L514.2,144.1 L516.5,143.7 L518.9,143.4 L521.2,143.1 L523.5,143.1 L525.7,142.9 L527.9,143.0 L530.1,142.6 L532.2,142.6 L534.2,142.4 L536.2,142.4 L538.2,142.4 L540.0,142.1 L542.8,141.9 L545.2,141.4 L547.4,141.0 L549.4,140.8 L551.3,140.5 L553.1,140.4 L555.1,140.1 L557.1,139.8 L559.4,139.6 L562.0,139.3 L565.0,139.3 L566.9,139.2 L568.9,139.2 L571.1,139.3 L573.4,139.3 L575.9,139.3 L578.4,139.2 L581.1,139.2 L583.7,139.2 L586.4,139.3 L589.1,139.5 L591.7,139.3 L594.3,139.2 L596.8,139.2 L599.2,139.3 L601.4,139.4 L603.6,139.1 L605.5,139.3 L607.2,139.2 L608.7,139.4 L610.0,139.5" stroke="#1e8ccc"/>
<path class="l" d="M369.0,154.3 L370.2,154.2 L371.6,153.9 L373.2,153.7 L375.0,153.6 L377.0,153.7 L379.0,153.7 L381.2,153.2 L383.6,153.2 L386.0,153.0 L388.4,153.1 L391.0,152.6 L393.5,152.4 L396.1,151.9 L398.8,151.8 L401.4,151.2 L403.9,151.2 L406.5,151.0 L409.0,151.0 L411.4,150.9 L413.7,150.6 L415.9,150.7 L418.0,150.3 L420.0,150.1 L422.6,149.6 L425.2,149.9 L427.6,149.6 L429.9,149.5 L432.1,148.8 L434.2,149.0 L436.4,148.7 L438.4,148.9 L440.5,148.4 L442.6,148.6 L444.7,148.2 L446.8,148.2 L449.0,148.0 L451.2,147.6 L453.6,147.6 L456.0,147.1 L458.0,147.0 L460.1,146.7 L462.2,146.7 L464.4,146.9 L466.5,146.8 L468.7,146.8 L471.0,146.4 L473.2,146.3 L475.5,146.1 L477.8,145.9 L480.0,145.8 L482.3,145.5 L484.6,145.4 L486.8,144.9 L489.1,144.7 L491.3,144.7 L493.5,144.5 L495.7,144.3 L497.9,143.9 L500.0,144.0 L502.4,143.9 L504.7,143.7 L507.2,143.4 L509.6,143.1 L512.0,142.7 L514.4,142.3 L516.9,142.0 L519.3,141.8 L521.6,141.8 L524.0,141.6 L526.2,141.3 L528.4,141.3 L530.6,141.2 L532.7,141.2 L534.7,141.3 L536.5,141.2 L538.3,141.2 L540.0,141.1 L543.3,141.2 L546.0,141.7 L548.3,142.5 L550.3,143.8 L552.1,144.7 L553.9,145.5 L555.9,146.0 L558.0,146.3 L560.0,146.0 L561.9,145.6 L563.7,145.0 L565.6,144.1 L567.5,142.7 L569.6,141.8 L571.8,141.2 L574.3,140.9 L577.0,140.6 L578.9,140.0 L581.0,139.9 L583.2,139.5 L585.7,139.5 L588.2,139.3 L590.8,139.2 L593.4,139.3 L596.0,139.5 L598.5,139.4 L600.9,139.1 L603.2,139.2 L605.3,139.2 L607.1,139.5 L608.7,139.0 L610.0,139.0" stroke="#2b6cb5"/>
<path class="l" d="M369.0,154.3 L370.2,154.2 L371.6,153.9 L373.2,153.7 L375.0,153.6 L377.0,153.5 L379.0,153.4 L381.2,153.1 L383.6,153.1 L386.0,153.0 L388.4,152.7 L391.0,152.1 L393.5,151.9 L396.1,151.6 L398.8,151.3 L401.4,150.7 L403.9,150.4 L406.5,150.2 L409.0,149.9 L411.4,149.5 L413.7,149.4 L415.9,149.2 L418.0,149.1 L420.0,149.0 L422.6,149.0 L425.2,148.9 L427.6,148.8 L429.9,148.5 L432.1,148.0 L434.2,147.8 L436.4,147.7 L438.4,147.9 L440.5,147.8 L442.6,147.6 L444.7,147.4 L446.8,147.3 L449.0,147.0 L451.2,146.8 L453.6,146.4 L456.0,146.0 L458.0,145.9 L460.1,146.3 L462.2,146.0 L464.4,145.9 L466.5,145.5 L468.7,145.6 L471.0,145.4 L473.2,145.1 L475.5,144.8 L477.8,144.5 L480.0,144.2 L482.3,143.9 L484.6,143.7 L486.8,143.5 L489.1,143.2 L491.3,143.1 L493.5,142.9 L495.7,142.7 L497.9,142.1 L500.0,141.6 L502.3,141.4 L504.7,141.3 L507.1,141.0 L509.4,140.9 L511.8,140.5 L514.2,140.5 L516.5,139.9 L518.9,139.9 L521.2,139.3 L523.5,139.0 L525.7,138.6 L527.9,138.4 L530.1,138.3 L532.2,138.2 L534.2,137.9 L536.2,137.5 L538.2,137.1 L540.0,137.0 L542.8,136.8 L545.2,136.0 L547.4,135.2 L549.4,134.5 L551.3,134.1 L553.1,133.4 L555.1,132.9 L557.1,132.4 L559.4,132.1 L562.0,132.1 L565.0,132.0 L566.9,132.1 L568.9,132.0 L571.1,131.9 L573.4,131.9 L575.9,132.0 L578.4,132.1 L581.1,132.1 L583.7,132.2 L586.4,132.3 L589.1,132.3 L591.7,132.3 L594.3,132.4 L596.8,132.5 L599.2,132.6 L601.4,132.6 L603.6,132.7 L605.5,132.9 L607.2,133.2 L608.7,133.5 L610.0,133.1" stroke="#3158a8"/>
<path class="l" d="M369.0,154.3 L370.2,154.3 L371.6,154.2 L373.2,153.9 L375.0,153.6 L377.0,153.7 L379.0,154.0 L381.2,153.8 L383.6,153.2 L386.0,152.4 L388.4,152.1 L391.0,152.0 L393.5,151.9 L396.1,151.7 L398.8,151.5 L401.4,151.1 L403.9,150.7 L406.5,150.4 L409.0,150.3 L411.4,150.2 L413.7,150.0 L415.9,150.0 L418.0,149.9 L420.0,149.8 L422.6,149.5 L425.2,149.2 L427.6,149.0 L429.9,148.8 L432.1,148.5 L434.2,148.0 L436.4,147.7 L438.4,147.5 L440.5,147.5 L442.6,147.5 L444.7,147.1 L446.8,146.8 L449.0,146.3 L451.2,146.3 L453.6,146.0 L456.0,146.1 L458.0,146.1 L460.1,145.9 L462.2,145.6 L464.4,145.5 L466.5,145.3 L468.7,145.5 L471.0,145.2 L473.2,145.0 L475.5,144.5 L477.8,144.2 L480.0,144.1 L482.3,144.3 L484.6,144.2 L486.8,144.0 L489.1,143.8 L491.3,143.6 L493.5,143.4 L495.7,143.0 L497.9,143.0 L500.0,142.9 L502.3,142.6 L504.7,142.6 L507.1,142.3 L509.4,142.4 L511.8,141.8 L514.2,141.7 L516.5,141.2 L518.9,140.8 L521.2,140.5 L523.5,140.2 L525.7,140.2 L527.9,139.8 L530.1,139.5 L532.2,139.4 L534.2,139.1 L536.2,139.3 L538.2,138.6 L540.0,138.7 L542.8,138.0 L545.2,137.7 L547.4,137.1 L549.4,136.7 L551.3,136.5 L553.1,136.2 L555.1,136.0 L557.1,135.6 L559.4,135.2 L562.0,135.0 L565.0,134.9 L566.9,134.8 L568.9,134.7 L571.1,134.6 L573.4,134.6 L575.9,134.7 L578.4,134.8 L581.1,135.0 L583.7,135.1 L586.4,135.3 L589.1,135.0 L591.7,134.8 L594.3,134.7 L596.8,134.8 L599.2,135.0 L601.4,135.4 L603.6,135.7 L605.5,135.9 L607.2,135.4 L608.7,135.4 L610.0,135.3" stroke="#22a9e0"/>
<path class="l" d="M369.0,154.3 L370.2,154.2 L371.7,154.2 L373.4,153.9 L375.4,153.5 L377.4,153.0 L379.7,152.7 L382.0,152.6 L384.5,152.4 L387.0,152.1 L389.7,151.6 L392.3,151.3 L394.9,151.0 L397.6,150.7 L400.2,150.3 L402.7,150.3 L405.1,150.2 L407.5,149.8 L409.7,149.2 L411.7,148.7 L413.6,148.6 L416.5,148.4 L419.2,148.4 L421.7,148.2 L424.1,148.0 L426.4,147.5 L428.6,147.0 L430.7,146.7 L432.6,146.7 L434.6,146.5 L436.4,146.5 L438.2,146.0 L440.0,145.9 L442.7,145.4 L444.9,145.5 L446.9,145.4 L448.7,145.3 L450.7,145.1 L453.1,145.0 L456.0,144.6 L457.8,144.3 L459.8,143.7 L462.0,143.5 L464.2,143.2 L466.5,142.8 L468.9,142.7 L471.4,142.3 L473.8,142.0 L476.3,141.6 L478.8,141.3 L481.2,141.4 L483.7,141.2 L486.0,141.0 L488.3,140.6 L490.6,140.5 L492.9,140.2 L495.2,140.1 L497.5,139.7 L499.8,139.7 L502.2,139.8 L504.5,139.8 L506.8,139.5 L509.1,139.4 L511.4,139.4 L513.7,139.4 L516.0,139.3 L518.3,139.1 L520.7,139.0 L523.1,138.6 L525.6,138.3 L528.0,138.2 L530.5,138.1 L532.9,137.9 L535.3,137.3 L537.6,137.1 L539.8,136.8 L542.0,136.9 L544.1,136.6 L546.0,136.3 L548.6,135.6 L551.1,134.8 L553.4,133.9 L555.6,133.1 L557.7,132.2 L559.7,131.5 L561.5,130.7 L563.3,130.1 L565.0,129.6 L567.8,129.4 L570.2,129.5 L572.3,130.0 L574.2,130.5 L576.0,131.1 L579.0,132.0 L582.0,132.9 L583.9,132.7 L586.1,132.3 L588.5,131.7 L590.8,131.3 L593.0,131.2 L595.4,130.8 L597.7,130.2 L599.9,129.7 L602.0,129.3 L605.0,128.8 L608.0,128.8 L610.0,128.6" stroke="#3346a0"/>
<path class="l" d="M369.0,154.3 L370.3,154.1 L371.8,153.7 L373.6,153.4 L375.6,153.1 L377.8,152.9 L380.2,152.5 L382.7,151.8 L385.4,151.6 L388.1,151.3 L391.0,151.0 L393.9,150.4 L396.8,150.0 L398.7,149.7 L400.8,149.3 L403.0,148.9 L405.4,148.6 L407.8,148.4 L410.2,148.1 L412.8,147.7 L415.3,147.3 L417.9,146.8 L420.4,146.1 L422.9,145.4 L425.4,145.2 L427.8,144.8 L430.2,144.5 L432.4,144.1 L434.5,144.1 L436.5,143.6 L438.3,143.2 L440.0,142.7 L443.7,142.3 L446.6,142.0 L448.8,141.9 L450.6,141.8 L452.3,141.8 L454.0,141.6 L456.0,141.0 L458.2,140.0 L460.4,139.2 L462.5,138.8 L464.6,138.6 L466.7,138.2 L468.9,137.8 L471.0,137.1 L473.1,136.5 L475.3,135.9 L477.4,135.2 L479.6,134.7 L481.7,133.9 L483.9,133.5 L486.0,133.1 L488.5,133.3 L491.0,132.8 L493.5,132.3 L496.0,131.6 L498.5,131.4 L501.0,131.4 L503.5,131.2 L506.0,131.1 L508.5,131.1 L511.0,131.4 L513.5,131.3 L516.0,131.6 L518.5,131.7 L521.0,132.1 L523.5,132.4 L526.0,132.6 L528.5,132.7 L531.0,132.4 L533.6,132.1 L536.2,131.7 L538.8,131.6 L541.4,131.6 L543.8,131.2 L546.0,130.8 L548.8,130.1 L551.1,129.9 L553.3,129.5 L556.0,129.6 L558.1,129.5 L560.4,129.6 L562.9,129.6 L565.3,129.8 L567.7,129.8 L570.0,130.2 L572.6,130.7 L575.0,131.8 L577.4,132.4 L579.8,132.9 L582.0,132.9 L584.5,132.6 L586.6,131.9 L589.0,131.2 L592.0,131.0 L594.0,131.1 L596.4,131.1 L599.0,131.0 L601.6,131.0 L604.2,131.0 L606.6,131.2 L608.6,131.3 L610.0,131.0" stroke="#3250a4"/>
<path class="l" d="M369.0,154.3 L370.3,154.4 L371.9,154.6 L373.7,154.7 L376.0,154.8 L378.6,155.3 L381.6,155.5 L385.0,155.7 L386.8,155.5 L388.6,155.7 L390.5,155.5 L392.6,155.4 L394.7,155.3 L396.9,155.8 L399.2,155.8 L401.6,155.6 L404.0,155.4 L406.5,155.4 L409.1,155.1 L411.7,155.0 L414.4,155.1 L417.2,155.5 L420.0,155.4 L422.0,155.4 L424.0,155.2 L426.1,155.4 L428.2,155.5 L430.3,155.7 L432.6,155.4 L434.8,155.0 L437.1,155.0 L439.4,155.5 L441.7,155.5 L444.1,155.4 L446.4,155.1 L448.8,155.3 L451.2,155.4 L453.6,155.3 L456.0,155.3 L458.3,154.8 L460.7,154.8 L463.1,154.6 L465.4,154.9 L467.7,155.0 L470.0,155.2 L472.3,155.1 L474.5,155.1 L476.8,155.1 L479.1,155.2 L481.4,155.1 L483.6,155.1 L485.9,155.2 L488.2,155.3 L490.5,155.2 L492.7,154.9 L495.0,155.0 L497.3,155.0 L499.5,155.2 L501.8,155.1 L504.1,155.0 L506.4,155.3 L508.6,155.4 L510.9,155.4 L513.2,155.3 L515.5,155.2 L517.7,155.4 L520.0,155.2 L522.3,155.1 L524.6,154.9 L526.9,154.9 L529.2,155.2 L531.6,155.1 L533.9,155.1 L536.3,155.2 L538.6,155.4 L540.9,155.7 L543.3,155.4 L545.6,155.3 L547.9,155.0 L550.3,155.3 L552.6,155.6 L554.8,155.6 L557.1,155.4 L559.3,155.3 L561.5,155.3 L563.7,155.3 L565.8,155.0 L567.9,155.1 L570.0,155.3 L572.5,155.5 L575.1,155.3 L577.7,155.1 L580.3,155.1 L583.0,155.4 L585.6,155.3 L588.1,155.6 L590.7,155.5 L593.1,155.7 L595.5,155.4 L597.8,155.1 L600.0,155.0 L602.1,155.0 L604.0,155.1 L605.8,155.0 L607.4,155.1 L608.8,155.2 L610.0,155.3" stroke="#fcd80a"/>
<path class="l" d="M369.0,154.3 L370.2,154.4 L371.6,154.4 L373.1,154.5 L374.9,154.5 L376.8,154.5 L378.8,154.8 L381.0,155.1 L383.3,155.6 L385.8,155.5 L388.4,155.5 L391.1,155.4 L394.0,155.7 L396.9,155.8 L400.0,156.2 L401.8,156.3 L403.6,156.5 L405.5,156.2 L407.5,156.2 L409.5,156.2 L411.5,156.3 L413.6,156.3 L415.8,156.1 L418.0,156.2 L420.2,156.3 L422.5,156.3 L424.8,156.4 L427.1,156.3 L429.5,156.4 L431.8,156.4 L434.2,156.3 L436.6,156.2 L439.0,156.3 L441.5,156.3 L443.9,156.3 L446.3,156.2 L448.7,156.1 L451.2,156.1 L453.6,156.3 L456.0,156.4 L458.1,156.5 L460.1,156.3 L462.2,156.3 L464.2,156.3 L466.2,156.5 L468.3,156.6 L470.3,156.6 L472.4,156.5 L474.4,156.4 L476.5,156.4 L478.5,156.3 L480.6,156.3 L482.7,156.4 L484.8,156.7 L486.9,156.9 L489.1,156.9 L491.3,156.8 L493.5,156.7 L495.7,156.8 L498.0,156.6 L500.2,156.3 L502.6,156.1 L504.9,156.0 L507.3,155.8 L509.8,156.0 L512.3,156.3 L514.8,156.4 L517.4,156.1 L520.0,155.9 L522.0,155.9 L524.0,156.0 L526.1,156.0 L528.4,156.2 L530.6,156.4 L533.0,156.3 L535.3,156.2 L537.8,156.3 L540.3,156.4 L542.8,156.4 L545.3,156.3 L547.9,156.2 L550.5,156.2 L553.2,156.3 L555.8,156.5 L558.4,156.7 L561.1,156.6 L563.7,156.6 L566.4,156.5 L569.0,156.3 L571.6,156.3 L574.2,156.3 L576.7,156.6 L579.2,156.6 L581.7,156.5 L584.1,156.3 L586.5,156.3 L588.8,156.3 L591.0,156.3 L593.2,156.4 L595.3,156.4 L597.3,156.5 L599.3,156.3 L601.1,156.4 L602.9,156.5 L604.5,156.6 L606.1,156.6 L607.5,156.5 L608.8,156.7 L610.0,156.5" stroke="#f0842a"/>
<path class="l" d="M369.0,154.3 L370.5,154.5 L372.8,154.9 L375.3,155.2 L377.8,155.3 L380.0,155.7 L382.8,156.5 L385.3,156.9 L388.0,157.4 L390.4,157.6 L393.0,158.1 L395.6,158.0 L398.0,157.9 L400.7,157.6 L403.1,157.4 L406.0,157.0 L407.8,156.7 L409.6,156.2 L411.6,156.2 L414.3,155.8 L418.0,155.7 L419.6,155.4 L421.4,155.5 L423.2,155.6 L425.2,155.8 L427.2,155.7 L429.4,155.3 L431.6,155.2 L434.0,155.2 L436.4,155.3 L439.0,155.2 L441.6,155.2 L444.3,155.4 L447.1,155.4 L450.0,155.5 L451.9,155.3 L453.8,155.2 L455.7,155.3 L457.7,155.5 L459.7,155.7 L461.8,155.5 L463.9,155.5 L466.0,155.3 L468.2,155.3 L470.4,155.4 L472.6,155.5 L474.9,155.6 L477.2,155.5 L479.6,155.3 L482.0,155.1 L484.4,155.0 L486.9,154.8 L489.4,154.9 L492.0,155.0 L494.6,155.4 L497.3,155.4 L500.0,155.3 L502.0,155.1 L504.0,155.2 L506.1,155.5 L508.3,155.4 L510.5,155.7 L512.7,155.5 L515.0,155.5 L517.4,155.2 L519.8,155.2 L522.2,155.0 L524.6,155.1 L527.0,155.0 L529.5,155.2 L531.9,155.2 L534.4,155.5 L536.9,155.2 L539.3,155.3 L541.7,155.1 L544.2,155.4 L546.6,155.2 L548.9,155.6 L551.3,155.4 L553.6,155.5 L555.8,155.2 L558.0,155.1 L560.2,155.1 L562.3,155.0 L564.3,155.3 L566.3,155.3 L568.2,155.5 L570.0,155.7 L573.0,155.9 L576.0,155.7 L578.9,155.5 L581.7,155.7 L584.4,155.9 L587.0,155.9 L589.6,155.6 L592.0,155.5 L594.4,155.5 L596.6,155.6 L598.7,155.4 L600.7,155.1 L602.6,154.9 L604.4,154.8 L606.0,155.0 L607.5,155.2 L608.8,155.3 L610.0,155.3" stroke="#2f3a96"/>
<path class="l" d="M369.0,154.3 L370.5,154.5 L372.7,154.9 L375.2,155.4 L377.9,155.9 L380.7,156.7 L383.2,157.2 L385.4,157.9 L387.8,158.9 L389.9,160.2 L391.8,161.5 L393.7,162.7 L395.9,163.8 L397.9,164.9 L400.0,166.3 L402.2,167.5 L404.5,168.6 L406.9,169.4 L409.3,170.3 L411.5,171.0 L413.8,171.7 L416.2,172.5 L418.6,173.2 L421.0,173.8 L423.4,174.3 L425.7,174.8 L428.3,175.3 L430.8,175.7 L433.2,175.8 L435.7,176.3 L438.1,176.4 L440.6,176.8 L443.1,177.0 L445.8,177.6 L448.4,178.1 L450.9,178.6 L453.4,178.8 L455.6,179.2 L458.1,180.1 L460.4,181.1 L462.4,182.1 L464.3,182.9 L466.0,183.6 L468.2,184.9 L471.0,186.6 L472.6,187.2 L474.6,187.9 L476.7,188.7 L479.0,189.9 L481.4,190.7 L483.8,191.3 L486.0,192.0 L488.5,192.6 L491.0,192.8 L493.5,192.7 L496.0,192.7 L498.5,193.0 L501.0,193.2 L503.5,193.5 L506.0,193.8 L508.5,194.2 L511.0,194.6 L513.5,194.9 L516.0,195.0 L518.5,194.8 L521.0,194.9 L523.5,194.9 L526.0,195.0 L528.5,194.9 L531.0,194.7 L533.6,194.7 L536.2,194.5 L538.8,194.5 L541.4,194.1 L543.8,193.9 L546.0,193.8 L548.8,193.8 L551.1,194.1 L553.3,194.1 L556.0,194.0 L558.1,193.6 L560.3,193.3 L562.7,193.2 L565.1,193.0 L567.6,192.7 L570.0,192.5 L572.4,192.3 L574.9,191.8 L577.4,191.7 L580.0,191.7 L582.5,191.8 L585.0,191.8 L587.6,191.7 L590.2,191.8 L592.8,191.6 L595.4,191.9 L597.8,191.9 L600.0,192.0 L603.1,191.9 L605.9,192.4 L608.3,192.5 L610.0,192.7" stroke="#a2cc3a"/>
<path class="l" d="M369.0,154.3 L370.8,156.4 L373.0,159.0 L374.4,161.6 L376.0,163.8 L378.2,166.0 L380.9,168.1 L382.6,169.7 L384.5,170.9 L386.5,172.3 L388.4,173.7 L390.6,175.1 L392.9,176.2 L395.9,177.5 L397.6,178.0 L399.6,179.0 L401.8,179.7 L404.0,180.7 L406.3,181.3 L408.6,182.3 L410.8,182.9 L413.3,183.6 L415.8,183.8 L418.2,184.3 L420.7,184.3 L423.2,184.7 L425.7,184.8 L428.2,185.3 L430.7,185.4 L433.1,185.5 L435.6,185.6 L438.1,186.1 L440.6,186.4 L443.1,186.7 L445.8,186.6 L448.4,186.9 L450.9,187.0 L453.4,187.0 L455.6,187.3 L458.7,187.7 L461.4,188.5 L463.9,188.9 L466.0,189.8 L468.2,190.5 L471.0,190.7 L472.9,190.8 L475.3,190.6 L477.9,190.8 L480.6,190.7 L483.4,190.8 L486.0,191.1 L488.5,191.0 L491.0,190.8 L493.5,190.3 L496.0,190.3 L498.5,190.3 L501.0,190.3 L503.5,190.4 L506.1,190.8 L508.7,191.1 L511.2,191.4 L513.7,191.9 L516.0,192.3 L518.6,192.7 L521.1,192.5 L523.5,192.2 L525.8,192.2 L528.0,192.0 L530.5,191.8 L532.7,190.7 L535.1,190.4 L538.0,189.8 L540.1,189.8 L542.4,189.6 L544.9,189.7 L547.5,189.9 L550.1,189.9 L552.6,189.9 L555.0,189.4 L557.7,189.1 L560.3,188.5 L562.8,188.1 L565.3,187.5 L567.7,187.3 L570.0,187.3 L572.6,187.1 L575.2,187.1 L577.6,187.2 L579.8,187.3 L582.0,187.1 L584.5,186.8 L586.7,186.2 L588.8,185.8 L591.0,185.2 L593.2,185.1 L595.4,185.0 L597.7,184.8 L600.0,184.9 L602.7,184.7 L605.6,184.5 L608.2,184.5 L610.0,185.0" stroke="#f6a622"/>
<path class="l" d="M369.0,154.3 L370.2,154.3 L371.6,154.4 L373.1,154.4 L374.9,154.5 L376.8,154.3 L378.8,154.4 L381.0,154.3 L383.3,154.7 L385.8,155.1 L388.4,155.4 L391.1,155.2 L394.0,154.9 L396.9,154.8 L400.0,155.0 L401.8,155.2 L403.7,155.4 L405.6,155.2 L407.7,154.9 L409.8,154.8 L412.0,154.7 L414.2,154.7 L416.5,154.9 L418.8,155.4 L421.2,155.5 L423.6,155.6 L426.0,155.4 L428.4,155.7 L430.8,155.6 L433.3,155.7 L435.7,155.6 L438.1,155.6 L440.5,155.7 L442.8,155.7 L445.2,155.9 L447.4,155.5 L449.7,155.5 L451.9,155.3 L454.0,155.3 L456.0,155.5 L458.5,155.6 L460.8,156.1 L463.1,155.9 L465.4,155.9 L467.6,155.8 L469.7,156.2 L471.8,155.9 L473.9,155.7 L475.9,155.3 L478.0,155.6 L480.1,155.5 L482.1,155.5 L484.2,155.6 L486.3,155.6 L488.4,155.6 L490.6,155.6 L492.9,155.7 L495.2,155.8 L497.5,155.7 L500.0,155.9 L502.0,156.0 L504.1,156.2 L506.2,156.1 L508.3,156.1 L510.5,156.0 L512.7,155.9 L514.9,155.6 L517.1,155.4 L519.4,155.7 L521.6,155.8 L523.9,156.3 L526.2,155.9 L528.5,156.0 L530.8,155.8 L533.2,155.9 L535.5,155.6 L537.8,155.5 L540.1,155.4 L542.4,155.5 L544.7,155.5 L547.0,155.7 L549.3,155.7 L551.6,155.6 L553.8,155.4 L556.0,155.5 L558.3,155.3 L560.7,155.7 L563.2,155.7 L565.7,155.8 L568.3,155.7 L570.9,155.6 L573.5,155.6 L576.1,155.5 L578.8,155.3 L581.4,155.4 L584.0,155.3 L586.5,155.4 L589.0,155.3 L591.4,155.4 L593.8,155.2 L596.1,155.1 L598.3,155.2 L600.3,155.4 L602.3,155.4 L604.1,155.3 L605.8,155.2 L607.4,155.3 L608.8,155.2 L610.0,155.3" stroke="#dc4a2b"/>
<path class="l" d="M369.0,154.3 L370.3,154.2 L371.8,154.2 L373.6,154.2 L375.6,154.0 L377.8,154.0 L380.2,153.7 L382.6,153.6 L385.2,153.3 L387.7,153.2 L390.3,153.2 L392.9,153.2 L395.4,153.0 L397.7,153.0 L400.0,152.8 L402.4,152.9 L404.7,152.9 L407.1,153.1 L409.4,152.8 L411.8,152.5 L414.1,152.3 L416.5,152.7 L418.8,152.9 L421.1,152.9 L423.4,152.7 L425.6,152.3 L427.8,151.8 L430.0,151.7 L432.4,151.5 L434.7,151.7 L436.9,151.5 L439.0,151.6 L441.1,151.2 L443.2,151.2 L445.4,150.9 L447.7,150.9 L450.2,150.6 L453.0,150.6 L456.0,150.4 L457.8,150.2 L459.6,150.1 L461.5,150.2 L463.5,150.4 L465.5,150.2 L467.5,150.1 L469.6,150.2 L471.7,150.3 L473.9,150.2 L476.1,149.9 L478.4,149.9 L480.7,150.0 L483.0,150.1 L485.4,150.0 L487.7,150.2 L490.1,150.1 L492.6,150.1 L495.0,150.2 L497.5,150.3 L500.0,150.2 L502.0,149.7 L504.1,149.5 L506.2,149.7 L508.3,150.1 L510.5,150.1 L512.7,150.1 L514.9,150.0 L517.1,150.3 L519.4,150.2 L521.6,150.1 L523.9,150.1 L526.2,150.0 L528.5,150.1 L530.8,150.3 L533.2,150.5 L535.5,150.6 L537.8,150.2 L540.1,150.1 L542.4,149.8 L544.7,149.8 L547.0,149.7 L549.3,149.9 L551.6,150.0 L553.8,150.2 L556.0,150.0 L558.3,150.0 L560.7,149.9 L563.2,149.9 L565.7,149.9 L568.3,149.8 L570.9,149.8 L573.5,149.8 L576.1,149.8 L578.8,149.6 L581.4,149.6 L584.0,149.6 L586.5,149.8 L589.0,149.9 L591.4,149.9 L593.8,149.8 L596.1,149.3 L598.3,149.3 L600.3,148.9 L602.3,149.1 L604.1,149.0 L605.8,149.4 L607.4,149.4 L608.8,149.4 L610.0,149.5" stroke="#e63329"/>
<path class="l" d="M369.0,154.3 L370.4,153.8 L372.2,153.0 L374.4,152.0 L377.0,151.0 L380.0,150.1 L381.8,149.7 L383.8,149.1 L385.9,148.7 L388.1,148.2 L390.4,147.6 L392.8,147.0 L395.2,146.3 L397.6,145.8 L400.0,145.0 L402.2,144.8 L404.5,144.2 L406.9,143.5 L409.3,142.7 L411.7,142.2 L414.1,141.8 L416.4,141.4 L418.7,140.7 L420.9,140.1 L423.0,139.7 L425.8,139.2 L428.3,138.3 L430.8,137.7 L433.1,137.1 L435.4,136.8 L437.7,136.0 L440.0,135.7 L442.3,135.0 L444.7,134.2 L447.0,133.3 L449.3,132.7 L451.5,132.3 L453.8,131.4 L456.0,130.9 L458.2,130.3 L460.4,130.1 L462.5,129.3 L464.6,128.7 L466.7,128.0 L468.9,127.4 L471.0,126.8 L473.1,126.1 L475.3,125.8 L477.4,125.4 L479.6,124.9 L481.7,123.8 L483.9,123.2 L486.0,122.7 L488.1,122.4 L490.3,121.8 L492.4,120.8 L494.6,119.8 L496.7,119.1 L498.9,118.7 L501.0,118.6 L503.6,118.0 L506.3,117.3 L509.0,116.5 L511.6,115.9 L514.0,115.4 L516.0,114.9 L518.6,114.5 L520.4,114.4 L523.0,114.5 L525.1,114.5 L527.6,114.9 L530.4,115.4 L533.1,115.9 L535.8,116.2 L538.0,116.8 L540.7,117.3 L542.9,117.5 L545.0,117.7 L547.0,118.0 L549.5,118.8 L551.9,119.6 L555.0,120.0 L557.1,120.2 L559.6,120.3 L562.2,120.2 L565.0,120.0 L567.6,119.7 L570.0,119.7 L572.5,119.1 L574.9,118.7 L577.1,118.0 L579.5,117.3 L582.0,116.4 L584.0,115.9 L586.1,115.5 L588.3,115.0 L590.6,114.3 L592.8,113.8 L594.9,113.2 L597.0,112.8 L599.9,112.4 L603.0,112.1 L605.8,112.0 L608.3,112.0 L610.0,111.9" stroke="#1aaac6"/>
<path class="l" d="M369.0,154.3 L370.4,153.7 L372.2,152.7 L374.4,151.6 L377.0,150.4 L380.0,149.4 L381.8,148.9 L383.7,148.3 L385.8,147.8 L388.0,147.5 L390.2,147.1 L392.6,146.6 L395.0,145.7 L397.5,145.0 L400.0,144.2 L402.2,143.6 L404.5,143.3 L406.9,142.9 L409.4,142.4 L411.9,141.7 L414.5,141.3 L417.0,141.2 L419.4,140.8 L421.6,140.2 L423.8,139.3 L425.7,139.1 L428.7,138.0 L431.2,137.4 L433.5,136.2 L435.5,135.5 L437.7,134.8 L440.0,133.9 L442.2,133.6 L444.5,133.1 L446.8,133.0 L449.1,132.6 L451.5,132.5 L453.8,132.2 L456.0,131.5 L458.2,131.0 L460.4,130.4 L462.5,130.1 L464.6,129.7 L466.7,129.0 L468.9,128.5 L471.0,127.7 L473.1,127.2 L475.3,126.4 L477.4,125.8 L479.6,125.1 L481.7,124.5 L483.9,124.1 L486.0,123.5 L488.1,123.0 L490.3,122.1 L492.4,121.9 L494.6,121.5 L496.7,121.0 L498.9,120.2 L501.0,119.9 L503.5,119.6 L506.0,119.7 L508.5,119.6 L511.0,119.7 L513.5,119.4 L516.0,119.2 L518.5,119.2 L521.0,118.9 L523.5,118.4 L526.0,117.9 L528.5,117.7 L531.0,117.4 L533.2,117.0 L535.4,116.6 L537.7,116.1 L539.9,115.4 L542.1,114.8 L544.1,114.2 L546.0,113.7 L548.8,113.4 L551.1,113.3 L553.3,113.3 L556.0,113.2 L558.1,113.0 L560.3,112.4 L562.7,112.0 L565.1,111.6 L567.6,111.3 L570.0,111.2 L572.4,111.1 L574.9,111.3 L577.4,111.3 L580.0,111.5 L582.5,111.6 L585.0,111.8 L587.6,112.1 L590.2,112.0 L592.8,112.0 L595.4,111.5 L597.8,111.4 L600.0,111.0 L603.1,111.1 L605.9,111.1 L608.3,111.4 L610.0,111.6" stroke="#14a982"/>
<path class="l" d="M369.0,154.3 L369.4,152.9 L369.9,150.6 L370.6,148.1 L371.3,145.5 L372.0,143.5 L373.0,140.9 L374.1,138.6 L375.3,136.4 L376.4,134.4 L377.9,131.9 L379.4,129.4 L380.9,127.6 L383.1,125.5 L385.4,124.5 L388.1,123.6 L391.4,123.2 L393.5,122.8 L395.9,122.9 L398.3,122.8 L400.3,122.6 L402.7,121.3 L404.8,119.8 L406.8,118.8 L409.0,117.7 L410.8,116.7 L413.8,113.8 L415.7,113.2 L418.1,112.8 L420.5,112.5 L422.7,112.3 L425.7,111.8 L428.7,110.1 L430.3,108.6 L432.2,106.5 L434.1,104.7 L436.0,103.0 L437.6,102.1 L440.7,102.0 L443.6,102.6 L446.1,102.0 L448.8,100.8 L451.1,99.8 L453.5,99.6 L455.6,99.4 L458.0,97.5 L460.0,95.5 L462.0,95.6 L463.7,96.4 L465.9,97.6 L468.4,98.5 L470.9,99.0 L473.5,99.2 L476.2,99.5 L479.0,99.9 L481.4,100.2 L484.0,99.8 L486.3,99.3 L488.8,98.9 L491.1,99.7 L493.7,100.7 L496.2,102.1 L498.5,103.0 L500.8,102.5 L502.9,101.2 L505.3,99.7 L507.1,99.0 L509.2,98.4 L511.4,97.5 L513.6,96.8 L515.7,96.5 L518.4,96.0 L521.2,95.5 L523.8,95.1 L526.1,95.0 L529.4,95.4 L532.1,95.7 L535.1,94.1 L538.1,93.4 L541.2,93.8 L544.1,95.1 L546.6,95.9 L549.0,97.1 L550.9,98.1 L552.9,99.3 L555.0,100.7 L557.4,101.8 L559.9,103.1 L562.4,104.4 L564.9,106.1 L567.4,107.8 L569.9,109.0 L572.4,110.3 L574.9,111.4 L577.4,112.8 L579.3,113.8 L581.1,114.9 L582.9,116.3 L584.8,117.9 L587.3,119.3 L589.8,120.2 L592.3,121.0 L594.7,121.6 L597.1,122.4 L599.8,123.1 L602.4,124.2 L605.4,124.9 L608.1,125.9 L610.0,126.5" stroke="#d8df20"/>
<path d="M69,28 V217 H309" fill="none" stroke="#000" stroke-width="2"/>
<rect x="69" y="27.6" width="3" height="2" fill="#000"/>
<rect x="69" y="65.15" width="3" height="2" fill="#000"/>
<rect x="69" y="102.69999999999999" width="3" height="2" fill="#000"/>
<rect x="69" y="140.25" width="3" height="2" fill="#000"/>
<rect x="69" y="177.79999999999998" width="3" height="2" fill="#000"/>
<rect x="107.3" y="214" width="2" height="3" fill="#000"/>
<rect x="147.1" y="214" width="2" height="3" fill="#000"/>
<rect x="186.89999999999998" y="214" width="2" height="3" fill="#000"/>
<rect x="226.7" y="214" width="2" height="3" fill="#000"/>
<rect x="266.5" y="214" width="2" height="3" fill="#000"/>
<rect x="306.29999999999995" y="214" width="2" height="3" fill="#000"/>
<path d="M369,30.3 V216.0 H611.6" fill="none" stroke="#000" stroke-width="2"/>
<rect x="369" y="30.0" width="3" height="2" fill="#000"/>
<rect x="369" y="67.0" width="3" height="2" fill="#000"/>
<rect x="369" y="104.0" width="3" height="2" fill="#000"/>
<rect x="369" y="141.0" width="3" height="2" fill="#000"/>
<rect x="369" y="178.0" width="3" height="2" fill="#000"/>
<rect x="408.1" y="213.0" width="2" height="3" fill="#000"/>
<rect x="448.2" y="213.0" width="2" height="3" fill="#000"/>
<rect x="488.3" y="213.0" width="2" height="3" fill="#000"/>
<rect x="528.4" y="213.0" width="2" height="3" fill="#000"/>
<rect x="568.5" y="213.0" width="2" height="3" fill="#000"/>
<rect x="609.2" y="213.0" width="2" height="3" fill="#000"/>
<rect x="638" y="27.00" width="18.5" height="10.66" fill="#e63329"/>
<rect x="638" y="37.26" width="18.5" height="10.66" fill="#ec5327"/>
<rect x="638" y="47.52" width="18.5" height="10.66" fill="#f07b22"/>
<rect x="638" y="57.78" width="18.5" height="10.66" fill="#f9a51f"/>
<rect x="638" y="68.04" width="18.5" height="10.66" fill="#fcd80a"/>
<rect x="638" y="78.31" width="18.5" height="10.66" fill="#d8df20"/>
<rect x="638" y="88.57" width="18.5" height="10.66" fill="#a2cc3a"/>
<rect x="638" y="98.83" width="18.5" height="10.66" fill="#68bd45"/>
<rect x="638" y="109.09" width="18.5" height="10.66" fill="#14a982"/>
<rect x="638" y="119.35" width="18.5" height="10.66" fill="#17a9a9"/>
<rect x="638" y="129.61" width="18.5" height="10.66" fill="#1aa9cc"/>
<rect x="638" y="139.87" width="18.5" height="10.66" fill="#22a9e0"/>
<rect x="638" y="150.13" width="18.5" height="10.66" fill="#1e8ccc"/>
<rect x="638" y="160.39" width="18.5" height="10.66" fill="#2b6cb5"/>
<rect x="638" y="170.66" width="18.5" height="10.66" fill="#3158a8"/>
<rect x="638" y="180.92" width="18.5" height="10.66" fill="#3250a4"/>
<rect x="638" y="191.18" width="18.5" height="10.66" fill="#3346a0"/>
<rect x="638" y="201.44" width="18.5" height="10.66" fill="#2f3a96"/>
<rect x="638.5" y="27.5" width="17.5" height="183.7" fill="none" stroke="#333" stroke-opacity="0.55" stroke-width="1"/>
<text transform="translate(57.3,35.35) scale(1,1.0)" text-anchor="end" font-size="15.5" >1.0</text>
<text transform="translate(359.5,35.35) scale(1,1.0)" text-anchor="end" font-size="15.5" >1.0</text>
<text transform="translate(57.3,72.48) scale(1,1.0)" text-anchor="end" font-size="15.5" >0.8</text>
<text transform="translate(359.5,72.48) scale(1,1.0)" text-anchor="end" font-size="15.5" >0.8</text>
<text transform="translate(57.3,109.61) scale(1,1.0)" text-anchor="end" font-size="15.5" >0.6</text>
<text transform="translate(359.5,109.61) scale(1,1.0)" text-anchor="end" font-size="15.5" >0.6</text>
<text transform="translate(57.3,146.74) scale(1,1.0)" text-anchor="end" font-size="15.5" >0.4</text>
<text transform="translate(359.5,146.74) scale(1,1.0)" text-anchor="end" font-size="15.5" >0.4</text>
<text transform="translate(57.3,183.87) scale(1,1.0)" text-anchor="end" font-size="15.5" >0.2</text>
<text transform="translate(359.5,183.87) scale(1,1.0)" text-anchor="end" font-size="15.5" >0.2</text>
<text transform="translate(57.3,221.0) scale(1,1.0)" text-anchor="end" font-size="15.5" >0.0</text>
<text transform="translate(359.5,221.0) scale(1,1.0)" text-anchor="end" font-size="15.5" >0.0</text>
<text transform="translate(68.4,239.0) scale(1,1.0)" text-anchor="middle" font-size="15.5" >0</text>
<text transform="translate(367.7,239.0) scale(1,1.0)" text-anchor="middle" font-size="15.5" >0</text>
<text transform="translate(108.0,239.0) scale(1,1.0)" text-anchor="middle" font-size="15.5" >60</text>
<text transform="translate(408.2,239.0) scale(1,1.0)" text-anchor="middle" font-size="15.5" >60</text>
<text transform="translate(146.4,239.0) scale(1,1.0)" text-anchor="middle" font-size="15.5" >120</text>
<text transform="translate(446.7,239.0) scale(1,1.0)" text-anchor="middle" font-size="15.5" >120</text>
<text transform="translate(188.5,239.0) scale(1,1.0)" text-anchor="middle" font-size="15.5" >180</text>
<text transform="translate(488.6,239.0) scale(1,1.0)" text-anchor="middle" font-size="15.5" >180</text>
<text transform="translate(228.7,239.0) scale(1,1.0)" text-anchor="middle" font-size="15.5" >240</text>
<text transform="translate(528.7,239.0) scale(1,1.0)" text-anchor="middle" font-size="15.5" >240</text>
<text transform="translate(269.9,239.0) scale(1,1.0)" text-anchor="middle" font-size="15.5" >300</text>
<text transform="translate(569.8,239.0) scale(1,1.0)" text-anchor="middle" font-size="15.5" >300</text>
<text transform="translate(308.2,238.2) scale(1,1.0)" text-anchor="middle" font-size="15.5" >360</text>
<text transform="translate(608.8,238.2) scale(1,1.0)" text-anchor="middle" font-size="15.5" >360</text>
<text transform="translate(191.5,14.5) scale(1,1.0)" text-anchor="middle" font-size="19" >Hierarchical</text>
<text transform="translate(490.5,14.5) scale(1,1.0)" text-anchor="middle" font-size="19" >Flat</text>
<text transform="translate(189.5,266.2) scale(1,1.0)" text-anchor="middle" font-size="19" >Trial Number</text>
<text transform="translate(489.5,266.2) scale(1,1.0)" text-anchor="middle" font-size="19" >Trial Number</text>
<text transform="translate(15,123) rotate(-90) scale(1,1.0)" text-anchor="middle" font-size="19">Probability Correct</text>
<text transform="translate(659.5,36) scale(1,1.0)" text-anchor="start" font-size="13" >18</text>
<text transform="translate(659.5,212) scale(1,1.0)" text-anchor="start" font-size="13" >1</text>
</svg>
</body></html>
